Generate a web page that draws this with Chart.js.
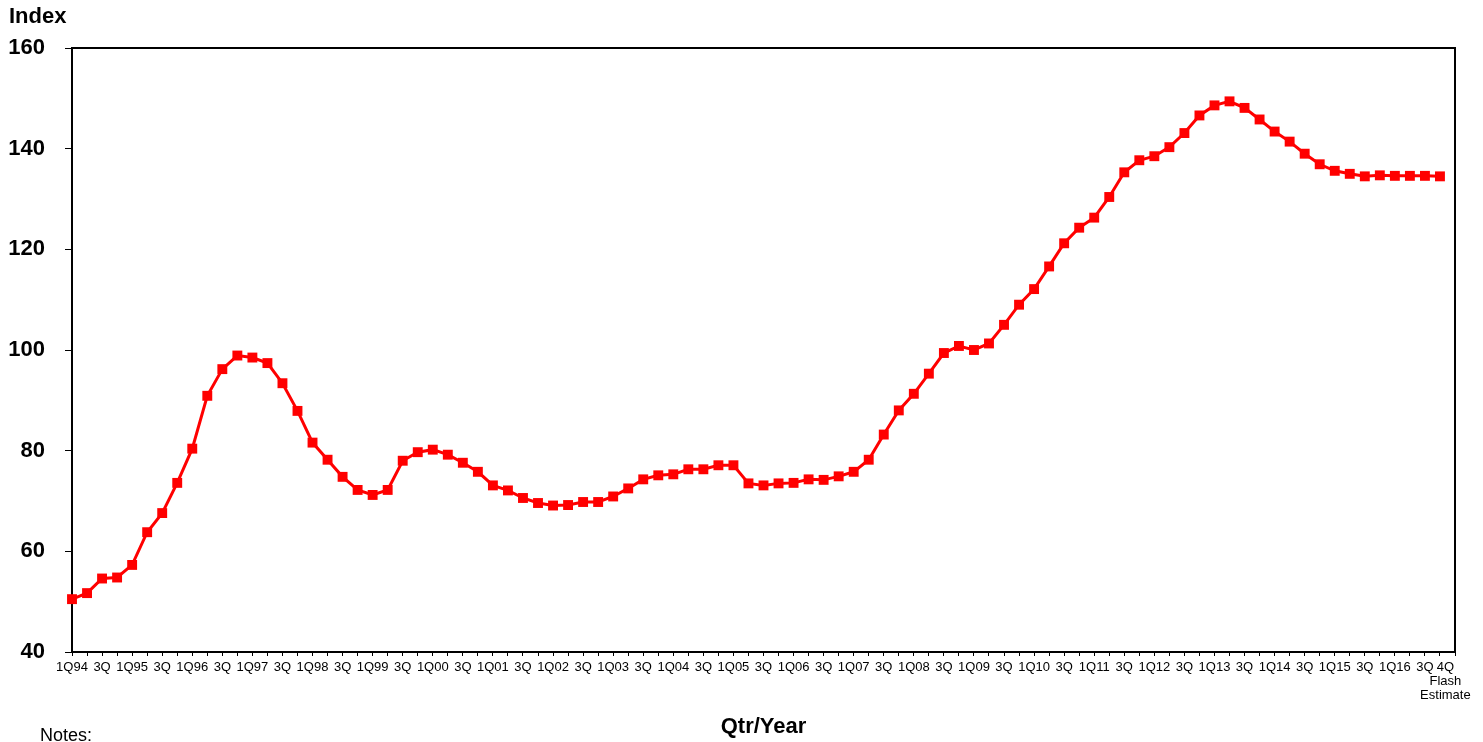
<!DOCTYPE html>
<html>
<head>
<meta charset="utf-8">
<script src="https://cdn.jsdelivr.net/npm/chart.js@4"></script>
<style>
  html, body { margin: 0; padding: 0; background: #fff; }
  #wrap { width: 1483px; height: 742px; }
</style>
</head>
<body>
<div id="wrap"><canvas id="canvas" width="1483" height="742"></canvas></div>
<script>
// quarterly index, 1Q94 .. 4Q16 (last one is the flash estimate)
var indexValues = [
  50.5, 51.7, 54.6, 54.8,
  57.3, 63.8, 67.6, 73.6,
  80.4, 90.9, 96.2, 98.9,
  98.5, 97.4, 93.4, 87.9,
  81.6, 78.2, 74.8, 72.2,
  71.2, 72.2, 78.0, 79.7,
  80.2, 79.2, 77.6, 75.8,
  73.1, 72.1, 70.6, 69.6,
  69.1, 69.2, 69.8, 69.8,
  70.9, 72.5, 74.3, 75.1,
  75.3, 76.3, 76.3, 77.1,
  77.1, 73.5, 73.1, 73.5,
  73.6, 74.3, 74.2, 74.9,
  75.8, 78.2, 83.2, 88.0,
  91.3, 95.3, 99.4, 100.8,
  100.0, 101.3, 105.0, 109.0,
  112.1, 116.6, 121.2, 124.3,
  126.3, 130.4, 135.3, 137.7,
  138.5, 140.3, 143.1, 146.6,
  148.6, 149.4, 148.1, 145.8,
  143.4, 141.4, 139.0, 136.9,
  135.6, 135.0, 134.5, 134.7,
  134.6, 134.6, 134.6, 134.5
];

// labels shown under every second quarter
var tickLabels = [
  '1Q94', '3Q', '1Q95', '3Q', '1Q96', '3Q', '1Q97', '3Q', '1Q98', '3Q',
  '1Q99', '3Q', '1Q00', '3Q', '1Q01', '3Q', '1Q02', '3Q', '1Q03', '3Q',
  '1Q04', '3Q', '1Q05', '3Q', '1Q06', '3Q', '1Q07', '3Q', '1Q08', '3Q',
  '1Q09', '3Q', '1Q10', '3Q', '1Q11', '3Q', '1Q12', '3Q', '1Q13', '3Q',
  '1Q14', '3Q', '1Q15', '3Q', '1Q16', '3Q'
];
// nbsp in front nudges the last label a little to the right, as in the original
var lastLabel = ['\u00A0\u00A0\u00A04Q', '\u00A0\u00A0\u00A0Flash', '\u00A0\u00A0\u00A0Estimate'];

var yTicks = [40, 60, 80, 100, 120, 140, 160];

var FONT = '"Liberation Sans", Arial, sans-serif';

var nPoints = indexValues.length;

var boxPlugin = {
  id: 'box',
  afterDraw: function(chart) {
    var ctx = chart.ctx;
    var a = chart.chartArea;
    ctx.save();
    ctx.strokeStyle = '#000';
    ctx.lineWidth = 2;
    ctx.beginPath();
    ctx.moveTo(a.left, a.top);
    ctx.lineTo(a.right, a.top);
    ctx.lineTo(a.right, a.bottom);
    ctx.stroke();

    ctx.fillStyle = '#000';
    ctx.textBaseline = 'middle';
    ctx.textAlign = 'left';
    ctx.font = 'bold 22px ' + FONT;
    ctx.fillText('Index', 9, 17);
    ctx.font = '18px ' + FONT;
    ctx.fillText('Notes:', 40, 736);
    ctx.restore();
  }
};

var chart_config = {
  type: 'line',
  data: {
    datasets: [{
      data: indexValues.map(function(v, i) { return {x: i, y: v}; }),
      borderColor: '#FF0000',
      backgroundColor: '#FF0000',
      borderWidth: 3,
      pointStyle: 'rect',
      pointRadius: 7,
      pointBorderWidth: 0,
      pointBackgroundColor: '#FF0000',
      tension: 0,
      clip: false
    }]
  },
  options: {
    responsive: false,
    animation: false,
    events: [],
    layout: { padding: { left: 0, top: 48, right: 28, bottom: 0 } },
    plugins: { legend: { display: false }, tooltip: { enabled: false } },
    scales: {
      x: {
        type: 'linear',
        min: 0,
        max: nPoints,
        afterBuildTicks: function(scale) {
          var t = [];
          for (var i = 0; i <= nPoints; i++) t.push({value: i});
          scale.ticks = t;
        },
        afterFit: function(scale) { scale.height = 90; },
        border: { display: true, color: '#000', width: 2 },
        grid: { drawOnChartArea: false, drawTicks: true, tickLength: 4, color: '#000', tickWidth: 1 },
        ticks: {
          autoSkip: false,
          maxRotation: 0,
          minRotation: 0,
          padding: 5,
          color: '#000',
          font: { family: FONT, size: 13, lineHeight: 1.05 },
          callback: function(value) {
            if (value === nPoints - 1) return lastLabel;
            if (value % 2 === 0 && value / 2 < tickLabels.length) return tickLabels[value / 2];
            return '';
          }
        },
        title: {
          display: true,
          text: 'Qtr/Year',
          color: '#000',
          font: { family: FONT, size: 22, weight: 'bold' },
          padding: { top: 0, bottom: 2 }
        }
      },
      y: {
        min: 40,
        max: 160,
        afterBuildTicks: function(scale) {
          scale.ticks = yTicks.map(function(v) { return {value: v}; });
        },
        afterFit: function(scale) { scale.width = 72; },
        border: { display: true, color: '#000', width: 2 },
        grid: { drawOnChartArea: false, drawTicks: true, tickLength: 7, color: '#000', tickWidth: 1 },
        ticks: {
          padding: 20,
          color: '#000',
          font: { family: FONT, size: 22, weight: 'bold' }
        }
      }
    }
  },
  plugins: [boxPlugin]
};

window.onload = function() {
  var ctx = document.getElementById('canvas').getContext('2d');
  window.myLine = new Chart(ctx, chart_config);
};
</script>
</body>
</html>
